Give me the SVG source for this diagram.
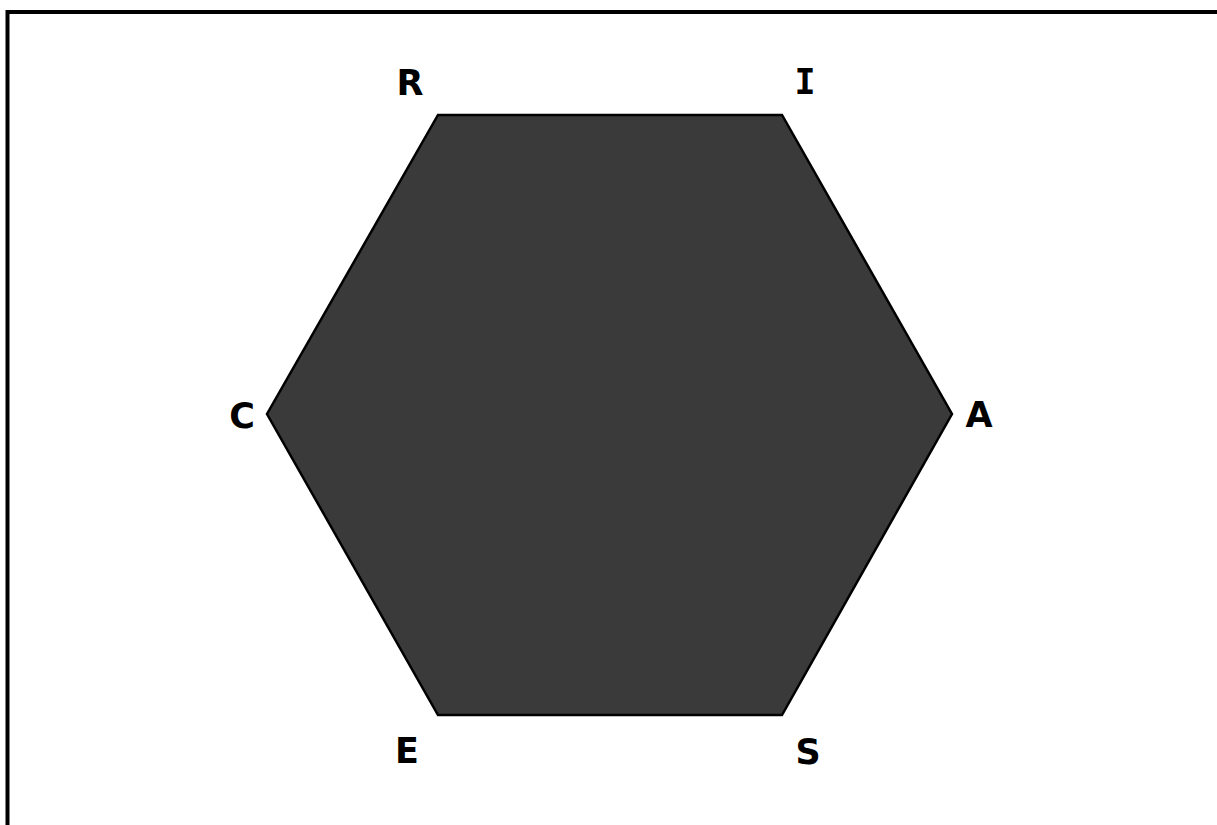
<svg xmlns="http://www.w3.org/2000/svg" width="1217" height="825" viewBox="0 0 1217 825">
<style>
.lbl{font-family:"DejaVu Sans","Liberation Sans",sans-serif;font-weight:bold;font-size:35px;fill:#000;text-anchor:middle}
.serif{font-family:"DejaVu Sans Mono","Liberation Mono",monospace}
</style>
<rect x="0" y="0" width="1217" height="825" fill="#fff"/>
<path d="M7.5 825 V12 H1217" fill="none" stroke="#000" stroke-width="4"/>
<g id="hexagon">
<polygon points="438,115 782,115 952,414 782,715 438,715 267,414" fill="#3a3a3a" stroke="#000" stroke-width="2.5" stroke-linejoin="miter"/>
</g>
<g id="connectors"></g>
<g id="label-R"><text class="lbl" x="410" y="95">R</text></g>
<g id="label-I"><text class="lbl serif" x="805" y="94">I</text></g>
<g id="label-C"><text class="lbl" x="242" y="428">C</text></g>
<g id="label-A"><text class="lbl" x="979" y="427">A</text></g>
<g id="label-E"><text class="lbl" x="407" y="763">E</text></g>
<g id="label-S"><text class="lbl" x="808" y="764">S</text></g>
</svg>
